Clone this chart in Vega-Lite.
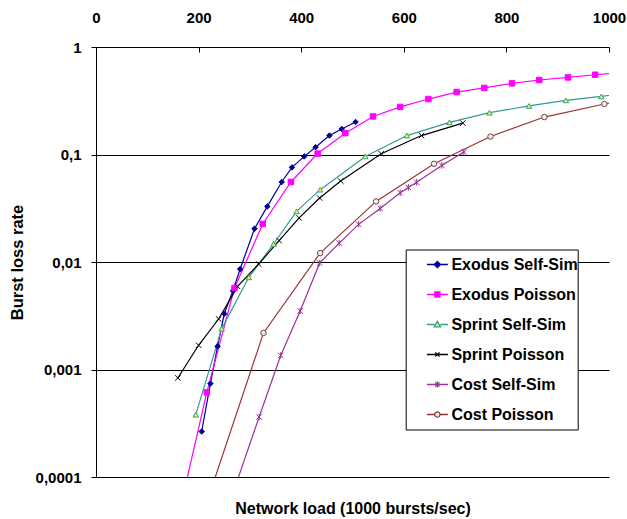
{
  "$schema": "https://vega.github.io/schema/vega-lite/v6.json",
  "width": 513,
  "height": 430,
  "autosize": {"type": "none"},
  "padding": {"left": 96, "top": 47, "right": 18, "bottom": 42},
  "background": "white",
  "config": {"view": {"stroke": null}, "font": "Liberation Sans"},
  "data": {"values": [
    {"series": "Exodus Self-Sim", "load": 206, "rate": 0.000265},
    {"series": "Exodus Self-Sim", "load": 223, "rate": 0.00074},
    {"series": "Exodus Self-Sim", "load": 237, "rate": 0.00164},
    {"series": "Exodus Self-Sim", "load": 250, "rate": 0.0033},
    {"series": "Exodus Self-Sim", "load": 267, "rate": 0.0054},
    {"series": "Exodus Self-Sim", "load": 281, "rate": 0.0086},
    {"series": "Exodus Self-Sim", "load": 309, "rate": 0.0204},
    {"series": "Exodus Self-Sim", "load": 334, "rate": 0.0329},
    {"series": "Exodus Self-Sim", "load": 362, "rate": 0.0555},
    {"series": "Exodus Self-Sim", "load": 382, "rate": 0.0759},
    {"series": "Exodus Self-Sim", "load": 406, "rate": 0.096},
    {"series": "Exodus Self-Sim", "load": 428, "rate": 0.117},
    {"series": "Exodus Self-Sim", "load": 455, "rate": 0.150},
    {"series": "Exodus Self-Sim", "load": 479, "rate": 0.173},
    {"series": "Exodus Self-Sim", "load": 506, "rate": 0.2005},
    {"series": "Exodus Poisson", "load": 162, "rate": 0.000046},
    {"series": "Exodus Poisson", "load": 216, "rate": 0.000612},
    {"series": "Exodus Poisson", "load": 270, "rate": 0.00573},
    {"series": "Exodus Poisson", "load": 325, "rate": 0.0226},
    {"series": "Exodus Poisson", "load": 380, "rate": 0.0555},
    {"series": "Exodus Poisson", "load": 432, "rate": 0.102},
    {"series": "Exodus Poisson", "load": 486, "rate": 0.158},
    {"series": "Exodus Poisson", "load": 540, "rate": 0.226},
    {"series": "Exodus Poisson", "load": 593, "rate": 0.277},
    {"series": "Exodus Poisson", "load": 648, "rate": 0.328},
    {"series": "Exodus Poisson", "load": 703, "rate": 0.381},
    {"series": "Exodus Poisson", "load": 757, "rate": 0.416},
    {"series": "Exodus Poisson", "load": 811, "rate": 0.459},
    {"series": "Exodus Poisson", "load": 864, "rate": 0.493},
    {"series": "Exodus Poisson", "load": 920, "rate": 0.521},
    {"series": "Exodus Poisson", "load": 973, "rate": 0.552},
    {"series": "Exodus Poisson", "load": 1027, "rate": 0.578},
    {"series": "Sprint Self-Sim", "load": 194.5, "rate": 0.00038},
    {"series": "Sprint Self-Sim", "load": 245, "rate": 0.0024},
    {"series": "Sprint Self-Sim", "load": 298, "rate": 0.0072},
    {"series": "Sprint Self-Sim", "load": 346, "rate": 0.0147},
    {"series": "Sprint Self-Sim", "load": 391, "rate": 0.0296},
    {"series": "Sprint Self-Sim", "load": 437, "rate": 0.0471},
    {"series": "Sprint Self-Sim", "load": 525, "rate": 0.096},
    {"series": "Sprint Self-Sim", "load": 606, "rate": 0.150},
    {"series": "Sprint Self-Sim", "load": 689, "rate": 0.199},
    {"series": "Sprint Self-Sim", "load": 767, "rate": 0.245},
    {"series": "Sprint Self-Sim", "load": 844, "rate": 0.283},
    {"series": "Sprint Self-Sim", "load": 916, "rate": 0.319},
    {"series": "Sprint Self-Sim", "load": 985, "rate": 0.347},
    {"series": "Sprint Self-Sim", "load": 1055, "rate": 0.385},
    {"series": "Sprint Poisson", "load": 159.5, "rate": 0.000834},
    {"series": "Sprint Poisson", "load": 200, "rate": 0.00168},
    {"series": "Sprint Poisson", "load": 239, "rate": 0.00295},
    {"series": "Sprint Poisson", "load": 276, "rate": 0.00593},
    {"series": "Sprint Poisson", "load": 317, "rate": 0.00957},
    {"series": "Sprint Poisson", "load": 357, "rate": 0.0158},
    {"series": "Sprint Poisson", "load": 396, "rate": 0.0257},
    {"series": "Sprint Poisson", "load": 436, "rate": 0.0394},
    {"series": "Sprint Poisson", "load": 477, "rate": 0.0566},
    {"series": "Sprint Poisson", "load": 556, "rate": 0.1017},
    {"series": "Sprint Poisson", "load": 634.5, "rate": 0.150},
    {"series": "Sprint Poisson", "load": 715, "rate": 0.196},
    {"series": "Cost Self-Sim", "load": 270, "rate": 0.000078},
    {"series": "Cost Self-Sim", "load": 318, "rate": 0.000361},
    {"series": "Cost Self-Sim", "load": 360, "rate": 0.00135},
    {"series": "Cost Self-Sim", "load": 398, "rate": 0.0035},
    {"series": "Cost Self-Sim", "load": 436, "rate": 0.0098},
    {"series": "Cost Self-Sim", "load": 474, "rate": 0.0150},
    {"series": "Cost Self-Sim", "load": 512, "rate": 0.0224},
    {"series": "Cost Self-Sim", "load": 554, "rate": 0.0315},
    {"series": "Cost Self-Sim", "load": 593, "rate": 0.0441},
    {"series": "Cost Self-Sim", "load": 609, "rate": 0.0494},
    {"series": "Cost Self-Sim", "load": 625, "rate": 0.0551},
    {"series": "Cost Self-Sim", "load": 674, "rate": 0.0792},
    {"series": "Cost Self-Sim", "load": 717, "rate": 0.1055},
    {"series": "Cost Poisson", "load": 217, "rate": 0.00006},
    {"series": "Cost Poisson", "load": 326.5, "rate": 0.00219},
    {"series": "Cost Poisson", "load": 437, "rate": 0.0121},
    {"series": "Cost Poisson", "load": 546, "rate": 0.0366},
    {"series": "Cost Poisson", "load": 659, "rate": 0.082},
    {"series": "Cost Poisson", "load": 769, "rate": 0.147},
    {"series": "Cost Poisson", "load": 874, "rate": 0.223},
    {"series": "Cost Poisson", "load": 991, "rate": 0.295},
    {"series": "Cost Poisson", "load": 1100, "rate": 0.37}
  ]},
  "encoding": {
    "x": {
      "field": "load", "type": "quantitative",
      "scale": {"domain": [0, 1000], "nice": false, "zero": false},
      "axis": {
        "orient": "top", "values": [0, 200, 400, 600, 800, 1000], "grid": false, "format": "d",
        "domainColor": "black", "tickColor": "black", "tickSize": -5,
        "labelFont": "Liberation Sans", "labelFontWeight": "bold", "labelFontSize": 15, "labelColor": "black",
        "labelPadding": 27, "labelFlush": false, "labelOverlap": false, "labelBound": false,
        "title": "Network load (1000 bursts/sec)", "titleFont": "Liberation Sans", "titleFontWeight": "bold",
        "titleFontSize": 16, "titleColor": "black", "titleY": 466.5, "titleBaseline": "alphabetic"
      }
    },
    "y": {
      "field": "rate", "type": "quantitative",
      "scale": {"type": "log", "domain": [0.0001, 1], "nice": false},
      "axis": {
        "values": [0.0001, 0.001, 0.01, 0.1, 1],
        "labelExpr": "replace('' + datum.value, '.', ',')",
        "grid": true, "gridColor": "black", "gridWidth": 1, "gridOpacity": 1,
        "domainColor": "black", "tickColor": "black", "tickSize": 5,
        "labelFont": "Liberation Sans", "labelFontWeight": "bold", "labelFontSize": 15, "labelColor": "black",
        "labelPadding": 10, "labelFlush": false, "labelOverlap": false, "labelBound": false,
        "title": "Burst loss rate", "titleFont": "Liberation Sans", "titleFontWeight": "bold", "titleFontSize": 16.5,
        "titleColor": "black", "titleX": -78.5, "titleY": 215, "titleAngle": -90,
        "titleBaseline": "middle", "titleAlign": "center"
      }
    }
  },
  "layer": [
    {
      "mark": {"type": "line", "clip": true, "strokeWidth": 1.2},
      "encoding": {
        "color": {
          "field": "series", "type": "nominal", "legend": null,
          "scale": {
            "domain": ["Exodus Self-Sim", "Exodus Poisson", "Sprint Self-Sim", "Sprint Poisson", "Cost Self-Sim", "Cost Poisson"],
            "range": ["#000099", "#FF00FF", "#339999", "#000000", "#993399", "#993333"]
          }
        }
      }
    },
    {
      "mark": {"type": "point", "clip": true, "filled": true, "opacity": 1, "strokeWidth": 1, "size": 30},
      "encoding": {
        "shape": {
          "field": "series", "type": "nominal", "legend": null,
          "scale": {
            "domain": ["Exodus Self-Sim", "Exodus Poisson", "Sprint Self-Sim", "Sprint Poisson", "Cost Self-Sim", "Cost Poisson"],
            "range": ["diamond", "square", "triangle-up", "M-1,-1L1,1M-1,1L1,-1", "M-1,-1L1,1M-1,1L1,-1M0,-1.2L0,1.2", "circle"]
          }
        },
        "stroke": {
          "field": "series", "type": "nominal", "legend": null,
          "scale": {
            "domain": ["Exodus Self-Sim", "Exodus Poisson", "Sprint Self-Sim", "Sprint Poisson", "Cost Self-Sim", "Cost Poisson"],
            "range": ["#000099", "#FF00FF", "#339999", "#000000", "#993399", "#993333"]
          }
        },
        "fill": {
          "field": "series", "type": "nominal", "legend": null,
          "scale": {
            "domain": ["Exodus Self-Sim", "Exodus Poisson", "Sprint Self-Sim", "Sprint Poisson", "Cost Self-Sim", "Cost Poisson"],
            "range": ["#000099", "#FF00FF", "#FFFF00", "#000000", "#993399", "#CCFFFF"]
          }
        }
      }
    },
    {
      "transform": [{"filter": "datum.rate < 0"}],
      "mark": {"type": "point", "filled": true, "strokeWidth": 1.3},
      "encoding": {
        "shape": {
          "field": "series", "type": "nominal",
          "scale": {
            "domain": ["Exodus Self-Sim", "Exodus Poisson", "Sprint Self-Sim", "Sprint Poisson", "Cost Self-Sim", "Cost Poisson"],
            "range": [
              "M-1,0L1,0M0,-0.3L0.3,0L0,0.3L-0.3,0Z",
              "M-1,0L1,0M-0.24,-0.24L0.24,-0.24L0.24,0.24L-0.24,0.24Z",
              "M-1,0L-0.28,0M0.28,0L1,0M0,-0.3L0.3,0.22L-0.3,0.22Z",
              "M-1,0L1,0M-0.2,-0.2L0.2,0.2M-0.2,0.2L0.2,-0.2",
              "M-1,0L1,0M-0.2,-0.2L0.2,0.2M-0.2,0.2L0.2,-0.2M0,-0.28L0,0.28",
              "M-1,0L-0.25,0M0.25,0L1,0M0.25,0A0.25,0.25,0,1,1,-0.25,0A0.25,0.25,0,1,1,0.25,0Z"
            ]
          },
          "legend": {
            "title": null, "orient": "none", "legendX": 309.7, "legendY": 202.5,
            "padding": 0, "strokeColor": "black", "fillColor": "white",
            "symbolSize": 441, "symbolStrokeWidth": 1.3, "symbolOffset": 20.2, "symbolOpacity": 1,
            "labelOffset": 2.5, "labelFont": "Liberation Sans", "labelFontWeight": "bold", "labelFontSize": 16,
            "labelColor": "black", "clipHeight": 30, "rowPadding": 0, "labelLimit": 300
          }
        },
        "stroke": {
          "field": "series", "type": "nominal",
          "scale": {
            "domain": ["Exodus Self-Sim", "Exodus Poisson", "Sprint Self-Sim", "Sprint Poisson", "Cost Self-Sim", "Cost Poisson"],
            "range": ["#000099", "#FF00FF", "#339999", "#000000", "#993399", "#993333"]
          },
          "legend": {
            "title": null, "orient": "none", "legendX": 309.7, "legendY": 202.5,
            "padding": 0, "strokeColor": "black", "fillColor": "white",
            "symbolSize": 441, "symbolStrokeWidth": 1.3, "symbolOffset": 20.2, "symbolOpacity": 1,
            "labelOffset": 2.5, "labelFont": "Liberation Sans", "labelFontWeight": "bold", "labelFontSize": 16,
            "labelColor": "black", "clipHeight": 30, "rowPadding": 0, "labelLimit": 300
          }
        },
        "fill": {
          "field": "series", "type": "nominal",
          "scale": {
            "domain": ["Exodus Self-Sim", "Exodus Poisson", "Sprint Self-Sim", "Sprint Poisson", "Cost Self-Sim", "Cost Poisson"],
            "range": ["#000099", "#FF00FF", "#FFFF00", "#000000", "#993399", "#CCFFFF"]
          },
          "legend": {
            "title": null, "orient": "none", "legendX": 309.7, "legendY": 202.5,
            "padding": 0, "strokeColor": "black", "fillColor": "white",
            "symbolSize": 441, "symbolStrokeWidth": 1.3, "symbolOffset": 20.2, "symbolOpacity": 1,
            "labelOffset": 2.5, "labelFont": "Liberation Sans", "labelFontWeight": "bold", "labelFontSize": 16,
            "labelColor": "black", "clipHeight": 30, "rowPadding": 0, "labelLimit": 300
          }
        }
      }
    }
  ],
  "resolve": {"scale": {"color": "independent", "shape": "independent", "stroke": "independent", "fill": "independent"}}
}
